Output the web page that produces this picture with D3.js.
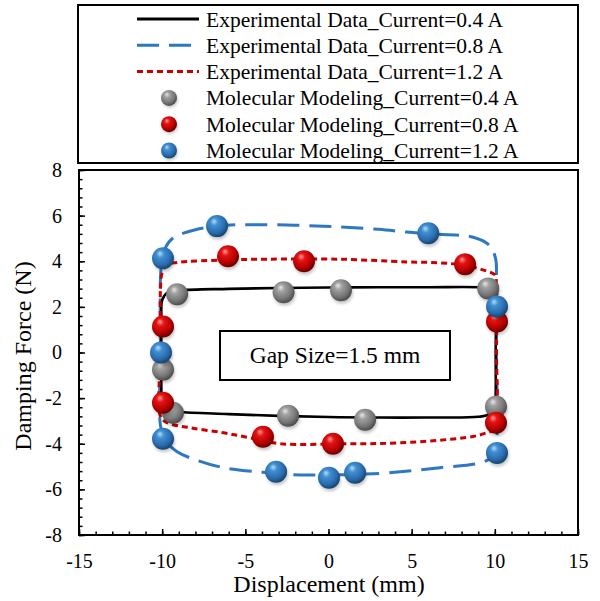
<!DOCTYPE html>
<html>
<head>
<meta charset="utf-8">
<script src="https://cdn.jsdelivr.net/npm/d3@7"></script>
<style>
  body { margin: 0; background: #fff; }
  svg { display: block; }
</style>
</head>
<body>
<svg id="chart" width="600" height="601"></svg>
<script>
// Axis ticks
const xTicks = [-15, -10, -5, 0, 5, 10, 15];
const yTicks = [-8, -6, -4, -2, 0, 2, 4, 6, 8];

// Legend labels
const legendLabels = [
  "Experimental Data_Current=0.4 A",
  "Experimental Data_Current=0.8 A",
  "Experimental Data_Current=1.2 A",
  "Molecular Modeling_Current=0.4 A",
  "Molecular Modeling_Current=0.8 A",
  "Molecular Modeling_Current=1.2 A"
];

// Experimental hysteresis loops [displacement (mm), force (N)]
const expLoop04 = [
  [-10.05, 0], [-10.05, 1.6], [-10.0, 2.3], [-9.7, 2.62], [-9.0, 2.72], [-6, 2.79], [-3, 2.83],
  [0, 2.85], [3, 2.86], [6, 2.86], [9, 2.86], [9.6, 2.82], [9.95, 2.55], [10.05, 2.0],
  [10.05, 0], [10.05, -1.8], [10.0, -2.35], [9.6, -2.72], [9.0, -2.82], [6, -2.85],
  [3, -2.85], [0, -2.83], [-3, -2.78], [-6, -2.7], [-9, -2.6], [-9.7, -2.5], [-10.0, -2.2],
  [-10.05, -1.5]
];
const expLoop08 = [
  [-10.1, -3.2], [-10.1, 0], [-10.05, 3.8], [-9.8, 4.6], [-9.35, 5.02], [-8, 5.38],
  [-6.6, 5.55], [-5.3, 5.6], [-2, 5.58], [0.7, 5.5], [3, 5.4], [4.7, 5.28], [6, 5.2],
  [8.7, 5.05], [9.7, 4.68], [10.05, 4.1], [10.1, 3.4], [10.1, 0], [10.1, -4.0],
  [9.9, -4.55], [9.1, -4.84], [6.7, -5.05], [2.7, -5.32], [0, -5.36], [-2.1, -5.36],
  [-4, -5.25], [-6.3, -5.05], [-8, -4.7], [-9.1, -4.35], [-9.8, -3.85]
];
const expLoop12 = [
  [-10.1, 0], [-10.1, 2.8], [-10.0, 3.5], [-9.7, 3.85], [-9.1, 3.95], [-6, 4.06],
  [-3.7, 4.09], [0.7, 4.09], [4.7, 3.97], [6.7, 3.93], [8.2, 3.82], [9.5, 3.57],
  [10.0, 3.4], [10.1, 2.9], [10.1, 0], [10.1, -3.0], [9.9, -3.4], [9.5, -3.52],
  [8.7, -3.68], [4.3, -3.96], [0.7, -4.0], [-2.9, -4.0], [-4.7, -3.74], [-6.3, -3.52],
  [-8.3, -3.3], [-9.7, -3.08], [-10.1, -2.8]
];

// Molecular modeling points [displacement (mm), force (N)]
const model04 = [
  [-9.1, 2.55], [-2.7, 2.64], [0.75, 2.73], [9.6, 2.81], [-9.95, -0.75],
  [-9.35, -2.64], [-2.43, -2.77], [2.2, -2.95], [10.07, -2.37]
];
const model08 = [
  [-6.04, 4.22], [-1.47, 4.0], [8.21, 3.87], [-9.95, 1.14], [-9.95, -2.2],
  [-3.94, -3.69], [0.27, -4.0], [10.13, 1.36], [10.07, -3.08]
];
const model12 = [
  [-9.95, 4.13], [-6.7, 5.54], [6.0, 5.23], [-10.07, 0.0], [-9.95, -3.78],
  [-3.15, -5.23], [0.03, -5.49], [1.6, -5.27], [10.13, 2.02], [10.13, -4.4]
];

const SERIF = "Liberation Serif";
const svg = d3.select("#chart");
const plot = { left: 79, right: 578, top: 170, bottom: 535 };

const x = d3.scaleLinear().domain([-15, 15]).range([plot.left, plot.right]);
const y = d3.scaleLinear().domain([-8, 8]).range([plot.bottom, plot.top]);

// Sphere gradients and soft drop shadow
const defs = svg.append("defs");
const sphereStyles = {
  gray: ["#e6e6e6", "#a0a0a0", "#767676", "#4c4c4c"],
  red:  ["#ff9a9a", "#e41414", "#b80000", "#680000"],
  blue: ["#b5dcf8", "#3f8fd2", "#2a6cae", "#17446f"]
};
Object.entries(sphereStyles).forEach(([key, c]) => {
  const g = defs.append("radialGradient").attr("id", "sph-" + key)
    .attr("cx", 0.42).attr("cy", 0.38).attr("r", 0.62).attr("fx", 0.36).attr("fy", 0.28);
  g.append("stop").attr("offset", "0%").attr("stop-color", c[0]);
  g.append("stop").attr("offset", "28%").attr("stop-color", c[1]);
  g.append("stop").attr("offset", "72%").attr("stop-color", c[2]);
  g.append("stop").attr("offset", "100%").attr("stop-color", c[3]);
});
defs.append("filter").attr("id", "soft").attr("x", "-50%").attr("y", "-50%")
  .attr("width", "200%").attr("height", "200%")
  .append("feGaussianBlur").attr("stdDeviation", 1.6);

function drawSpheres(g, data, key, r) {
  g.selectAll(null).data(data).enter().append("circle")
    .attr("cx", d => x(d[0]) + 1).attr("cy", d => y(d[1]) + 2.5).attr("r", r)
    .attr("fill", "#000").attr("opacity", 0.22).attr("filter", "url(#soft)");
  g.selectAll(null).data(data).enter().append("circle")
    .attr("cx", d => x(d[0])).attr("cy", d => y(d[1])).attr("r", r)
    .attr("fill", "url(#sph-" + key + ")");
}

// Axes with inward ticks (minor + major)
const xMinor = d3.range(-15, 15.01, 1);
const yMinor = d3.range(-8, 8.01, 0.4).map(v => +v.toFixed(2));
const plain = d => String(d);

function styleAxis(g) {
  g.attr("font-family", null);
  g.select(".domain").remove();
  g.selectAll("line").attr("stroke", "#000").attr("stroke-width", 1.5);
  g.selectAll("text").attr("fill", "#000").attr("font-size", 20).style("font-family", SERIF);
}

svg.append("g").attr("transform", `translate(0,${plot.bottom})`)
  .call(d3.axisBottom(x).tickValues(xMinor).tickSize(-3.5).tickFormat(""))
  .call(styleAxis);
svg.append("g").attr("transform", `translate(0,${plot.bottom})`)
  .call(d3.axisBottom(x).tickValues(xTicks).tickSize(-6).tickPadding(19).tickFormat(plain))
  .call(styleAxis);
svg.append("g").attr("transform", `translate(${plot.left},0)`)
  .call(d3.axisLeft(y).tickValues(yMinor).tickSize(-3.5).tickFormat(""))
  .call(styleAxis);
svg.append("g").attr("transform", `translate(${plot.left},0)`)
  .call(d3.axisLeft(y).tickValues(yTicks).tickSize(-6).tickPadding(17).tickFormat(plain))
  .call(styleAxis);

// Plot frame
svg.append("rect")
  .attr("x", plot.left).attr("y", plot.top)
  .attr("width", plot.right - plot.left).attr("height", plot.bottom - plot.top)
  .attr("fill", "none").attr("stroke", "#000").attr("stroke-width", 2);

// Axis titles
svg.append("text").attr("x", 329).attr("y", 592).attr("text-anchor", "middle")
  .attr("font-size", 24).style("font-family", SERIF).text("Displacement (mm)");
svg.append("text").attr("transform", "translate(31,356) rotate(-90)")
  .attr("text-anchor", "middle").attr("font-size", 24).style("font-family", SERIF)
  .text("Damping Force (N)");

// Experimental loops
const loop = d3.line().x(d => x(d[0])).y(d => y(d[1])).curve(d3.curveCatmullRomClosed.alpha(0.5));
const lines = svg.append("g");
lines.append("path").attr("d", loop(expLoop08)).attr("fill", "none")
  .attr("stroke", "#2e78c0").attr("stroke-width", 3).attr("stroke-dasharray", "22 10");
lines.append("path").attr("d", loop(expLoop04)).attr("fill", "none")
  .attr("stroke", "#000").attr("stroke-width", 2.6);
lines.append("path").attr("d", loop(expLoop12)).attr("fill", "none")
  .attr("stroke", "#c80000").attr("stroke-width", 3).attr("stroke-dasharray", "6 4");

// Modeling spheres
const marks = svg.append("g");
drawSpheres(marks, model04, "gray", 11);
drawSpheres(marks, model08, "red", 11);
drawSpheres(marks, model12, "blue", 11);

// Annotation box
svg.append("rect").attr("x", 220).attr("y", 331).attr("width", 230).attr("height", 49)
  .attr("fill", "#fff").attr("stroke", "#000").attr("stroke-width", 2);
svg.append("text").attr("x", 335).attr("y", 363).attr("text-anchor", "middle")
  .attr("font-size", 23.5).style("font-family", SERIF).text("Gap Size=1.5 mm");

// Legend
svg.append("rect").attr("x", 78).attr("y", 5).attr("width", 500).attr("height", 158)
  .attr("fill", "#fff").attr("stroke", "#000").attr("stroke-width", 2);
const rowY = d3.range(6).map(i => 19 + i * 26.3);
const legend = svg.append("g");
const lineStyles = [
  { color: "#000", dash: null, w: 3 },
  { color: "#2e78c0", dash: "22 10", w: 3 },
  { color: "#c80000", dash: "6 4", w: 3 }
];
lineStyles.forEach((s, i) => {
  legend.append("line").attr("x1", 137).attr("x2", 199).attr("y1", rowY[i]).attr("y2", rowY[i])
    .attr("stroke", s.color).attr("stroke-width", s.w).attr("stroke-dasharray", s.dash);
});
["gray", "red", "blue"].forEach((key, i) => {
  const cy = rowY[i + 3];
  legend.append("circle").attr("cx", 170).attr("cy", cy + 2).attr("r", 8)
    .attr("fill", "#000").attr("opacity", 0.2).attr("filter", "url(#soft)");
  legend.append("circle").attr("cx", 169).attr("cy", cy).attr("r", 8)
    .attr("fill", "url(#sph-" + key + ")");
});
legendLabels.forEach((t, i) => {
  legend.append("text").attr("x", 206).attr("y", rowY[i]).attr("dy", "0.35em")
    .attr("font-size", 21.5).style("font-family", SERIF).text(t);
});
</script>
</body>
</html>
